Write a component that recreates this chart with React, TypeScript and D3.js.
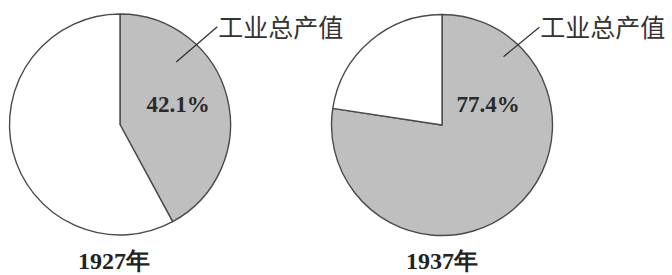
import React, { useEffect, useRef } from 'react';
import * as d3 from 'd3';

const years = ['1927年', '1937年'];
const industryShare = [42.1, 77.4];
const sliceLabel = '工业总产值';

const WIDTH = 672;
const HEIGHT = 275;

const App: React.FC = () => {
  const svgRef = useRef<SVGSVGElement>(null);

  useEffect(() => {
    if (!svgRef.current) return;
    const svg = d3.select(svgRef.current);
    svg.selectAll('*').remove();

    const radius = 110.5;
    const centers = [
      { x: 120, y: 124.5 },
      { x: 442, y: 125 }
    ];

    const pie = d3.pie<number>().sort(null).value(d => d);
    const arc = d3.arc<d3.PieArcDatum<number>>().innerRadius(0).outerRadius(radius);

    const serif = '"Liberation Serif", "Times New Roman", serif';
    const cjk = '"Noto Sans CJK SC", sans-serif';

    industryShare.forEach((share, i) => {
      const c = centers[i];
      const g = svg.append('g').attr('transform', `translate(${c.x},${c.y})`);
      const arcs = pie([share, 100 - share]);

      g.selectAll('path')
        .data(arcs)
        .enter()
        .append('path')
        .attr('d', arc)
        .attr('fill', (d, j) => (j === 0 ? '#bfbfbf' : '#ffffff'))
        .attr('stroke', '#4a4a4a')
        .attr('stroke-width', 1.4)
        .attr('stroke-linejoin', 'round');

      // percentage in the shaded slice
      g.append('text')
        .attr('x', i === 0 ? 58 : 46)
        .attr('y', -13)
        .attr('text-anchor', 'middle')
        .attr('font-family', serif)
        .attr('font-weight', 'bold')
        .attr('font-size', 23)
        .attr('fill', '#2a2a2a')
        .text(`${share}%`);

      // leader line + label
      const ang = (42 / 180) * Math.PI;
      const p0 = d3.pointRadial(ang, i === 0 ? 84 : 92);
      const p1 = d3.pointRadial(ang + 0.05, 138);
      g.append('line')
        .attr('x1', p0[0]).attr('y1', p0[1])
        .attr('x2', p1[0]).attr('y2', p1[1])
        .attr('stroke', '#333')
        .attr('stroke-width', 1.3);

      g.append('text')
        .attr('x', p1[0] + 1)
        .attr('y', p1[1] + 10)
        .attr('font-family', cjk)
        .attr('font-size', 25)
        .attr('fill', '#333')
        .text(sliceLabel);

      // year caption
      g.append('text')
        .attr('x', i === 0 ? -6 : 0)
        .attr('y', 144)
        .attr('text-anchor', 'middle')
        .attr('font-family', serif)
        .attr('font-weight', 'bold')
        .attr('font-size', 24)
        .attr('fill', '#222')
        .text(years[i]);
    });
  }, []);

  return (
    <svg
      ref={svgRef}
      width={WIDTH}
      height={HEIGHT}
      style={{ position: 'absolute', left: 0, top: 0, background: '#fff' }}
    />
  );
};

export default App;
